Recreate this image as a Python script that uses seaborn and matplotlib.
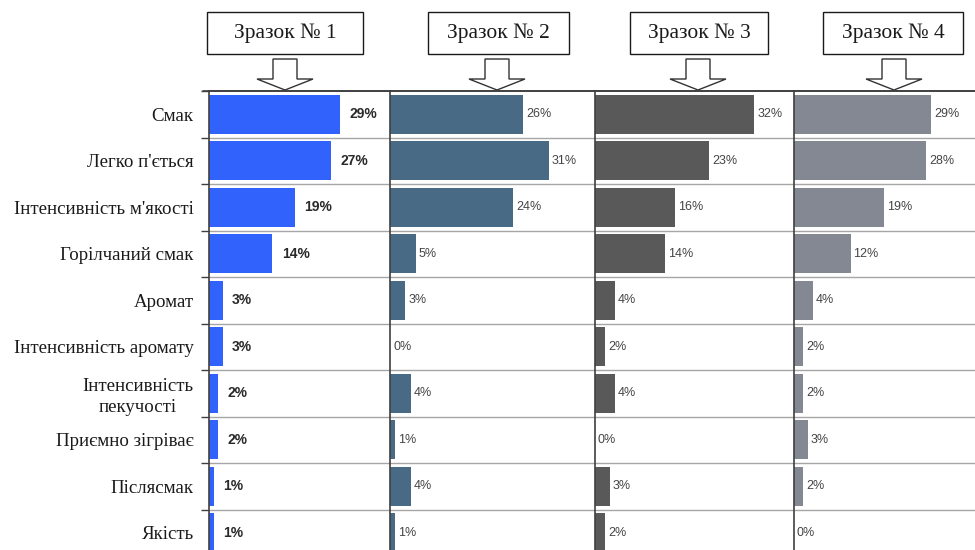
import matplotlib
matplotlib.use("Agg")
import matplotlib.pyplot as plt
from matplotlib.patches import Rectangle, Polygon
import seaborn as sns
import pandas as pd

sns.set_theme(style="white")
plt.rcParams["font.family"] = ["Liberation Sans", "DejaVu Sans"]

categories = [
    "Смак",
    "Легко п'ється",
    "Інтенсивність м'якості",
    "Горілчаний смак",
    "Аромат",
    "Інтенсивність аромату",
    "Інтенсивність\nпекучості",
    "Приємно зігріває",
    "Післясмак",
    "Якість",
]
sample_titles = ["Зразок № 1", "Зразок № 2", "Зразок № 3", "Зразок № 4"]
sample1 = [29, 27, 19, 14, 3, 3, 2, 2, 1, 1]
sample2 = [26, 31, 24, 5, 3, 0, 4, 1, 4, 1]
sample3 = [32, 23, 16, 14, 4, 2, 4, 0, 3, 2]
sample4 = [29, 28, 19, 12, 4, 2, 2, 3, 2, 0]
samples = [sample1, sample2, sample3, sample4]
bar_colors = ["#3162fb", "#486a84", "#595959", "#838892"]

W, H = 975, 550
fig = plt.figure(figsize=(W / 100, H / 100), dpi=100)
fig.patch.set_facecolor("white")

# panel edges in pixels
panel_left = [209, 390, 595, 794]
panel_right = [390, 595, 794, 983]
top_px, row_px = 91, 46.5
bottom_px = top_px + row_px * len(categories)


def fx(px):
    return px / W


def fy(py):
    return 1 - py / H


for i, (vals, color) in enumerate(zip(samples, bar_colors)):
    ax = fig.add_axes([fx(panel_left[i]), fy(bottom_px),
                       fx(panel_right[i] - panel_left[i]),
                       (bottom_px - top_px) / H])
    df = pd.DataFrame({"category": categories, "value": vals})
    sns.barplot(data=df, x="value", y="category", orient="h", color=color,
                saturation=1, width=0.84, ax=ax)
    ax.set_xlim(0, 40)
    ax.set_ylim(len(categories) - 0.5, -0.5)
    ax.set_xlabel("")
    ax.set_ylabel("")
    ax.set_xticks([])
    for p in ax.patches:
        p.set_edgecolor("none")

    # row separators
    for k in range(1, len(categories) + 1):
        ax.axhline(k - 0.5, color="#a6a6a6", lw=1.0, zorder=0)

    for s in ["bottom", "right"]:
        ax.spines[s].set_visible(False)
    ax.spines["top"].set_color("#404040")
    ax.spines["top"].set_linewidth(1.2)
    ax.spines["left"].set_color("#404040")
    ax.spines["left"].set_linewidth(1.2)

    if i == 0:
        ax.tick_params(axis="y", which="major", length=0, pad=11,
                       labelsize=13.6)
        for lbl in ax.get_yticklabels():
            lbl.set_fontfamily(["Liberation Serif", "DejaVu Serif"])
            lbl.set_color("#1a1a1a")
            lbl.set_multialignment("center")
            lbl.set_linespacing(1.3)
        ax.set_yticks([k - 0.5 for k in range(len(categories) + 1)],
                      minor=True)
        ax.tick_params(axis="y", which="minor", left=True, length=6,
                       width=1.0, color="#404040")
        for v, y in zip(vals, range(len(categories))):
            ax.text(v + 2.1, y, f"{v}%", va="center", ha="left",
                    fontsize=10, fontweight="bold", color="#2a2a2a")
    else:
        ax.set_yticks([])
        for v, y in zip(vals, range(len(categories))):
            ax.text(v + 0.6, y, f"{v}%", va="center", ha="left",
                    fontsize=9, color="#444444",
                    family=["Liberation Sans Narrow", "Liberation Sans"])

# top rule extending left of the first panel
fig.add_artist(plt.Line2D([fx(203), fx(W)], [fy(top_px), fy(top_px)],
                          color="#404040", lw=1.2))

# sample title boxes with hollow arrows
boxes = [(207, 363, 285), (428, 569, 497), (630, 768, 698), (823, 963, 894)]
for (x0, x1, tip), title in zip(boxes, sample_titles):
    fig.add_artist(Rectangle((fx(x0), fy(54)), fx(x1 - x0), (54 - 12) / H,
                             facecolor="white", edgecolor="#1a1a1a", lw=1.0))
    fig.text(fx((x0 + x1) / 2), fy(33), title, ha="center", va="center",
             fontsize=15.5, color="#1a1a1a",
             family=["Liberation Serif", "DejaVu Serif"])
    sw, hw = 12, 28
    pts = [(tip - sw, 59), (tip + sw, 59), (tip + sw, 79), (tip + hw, 79),
           (tip, 90), (tip - hw, 79), (tip - sw, 79)]
    fig.add_artist(Polygon([(fx(x), fy(y)) for x, y in pts], closed=True,
                           facecolor="white", edgecolor="#333333", lw=1.0))

fig.savefig("out.png", dpi=100, facecolor="white")
